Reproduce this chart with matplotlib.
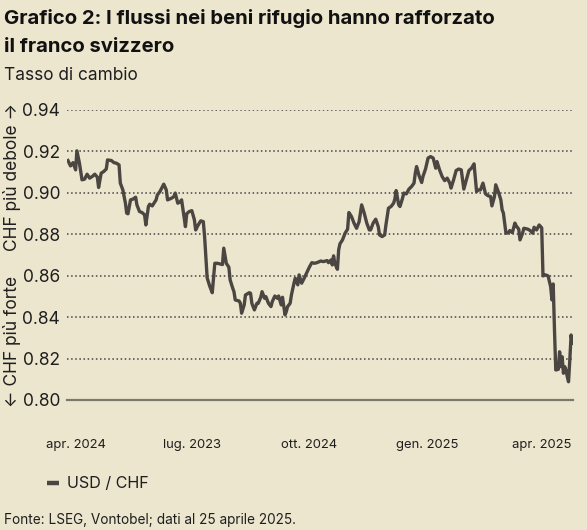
import matplotlib
matplotlib.use("Agg")
import matplotlib.pyplot as plt
import matplotlib.dates as mdates
from matplotlib.lines import Line2D
import pandas as pd

plt.rcParams['font.family'] = ['Inter', 'DejaVu Sans']

dates = [
    "2024-03-26", "2024-03-28", "2024-03-30", "2024-04-01", "2024-04-02", "2024-04-04", "2024-04-06",
    "2024-04-08", "2024-04-10", "2024-04-12", "2024-04-14", "2024-04-16", "2024-04-18", "2024-04-19",
    "2024-04-21", "2024-04-23", "2024-04-25", "2024-04-26", "2024-04-29", "2024-05-01", "2024-05-03",
    "2024-05-05", "2024-05-06", "2024-05-08", "2024-05-10", "2024-05-11", "2024-05-12", "2024-05-14",
    "2024-05-16", "2024-05-18", "2024-05-19", "2024-05-21", "2024-05-23", "2024-05-25", "2024-05-26",
    "2024-05-28", "2024-05-29", "2024-05-31", "2024-06-03", "2024-06-04", "2024-06-06", "2024-06-09",
    "2024-06-11", "2024-06-12", "2024-06-15", "2024-06-17", "2024-06-18", "2024-06-20", "2024-06-22",
    "2024-06-23", "2024-06-26", "2024-06-27", "2024-06-29", "2024-07-01", "2024-07-03", "2024-07-04",
    "2024-07-06", "2024-07-08", "2024-07-10", "2024-07-11", "2024-07-13", "2024-07-15", "2024-07-17",
    "2024-07-19", "2024-07-21", "2024-07-23", "2024-07-25", "2024-07-26", "2024-07-28", "2024-07-30",
    "2024-07-31", "2024-08-02", "2024-08-03", "2024-08-04", "2024-08-07", "2024-08-08", "2024-08-09",
    "2024-08-11", "2024-08-12", "2024-08-15", "2024-08-16", "2024-08-17", "2024-08-19", "2024-08-21",
    "2024-08-22", "2024-08-24", "2024-08-25", "2024-08-27", "2024-08-28", "2024-08-30", "2024-09-01",
    "2024-09-02", "2024-09-04", "2024-09-06", "2024-09-07", "2024-09-09", "2024-09-10", "2024-09-12",
    "2024-09-13", "2024-09-14", "2024-09-16", "2024-09-17", "2024-09-19", "2024-09-20", "2024-09-22",
    "2024-09-23", "2024-09-25", "2024-09-27", "2024-09-29", "2024-10-01", "2024-10-03", "2024-10-05",
    "2024-10-07", "2024-10-10", "2024-10-12", "2024-10-15", "2024-10-16", "2024-10-18", "2024-10-19",
    "2024-10-20", "2024-10-21", "2024-10-23", "2024-10-24", "2024-10-25", "2024-10-27", "2024-10-29",
    "2024-10-31", "2024-11-01", "2024-11-03", "2024-11-05", "2024-11-07", "2024-11-09", "2024-11-11",
    "2024-11-13", "2024-11-15", "2024-11-17", "2024-11-18", "2024-11-20", "2024-11-22", "2024-11-24",
    "2024-11-25", "2024-11-27", "2024-11-29", "2024-11-30", "2024-12-02", "2024-12-04", "2024-12-06",
    "2024-12-07", "2024-12-08", "2024-12-10", "2024-12-11", "2024-12-13", "2024-12-14", "2024-12-16",
    "2024-12-18", "2024-12-20", "2024-12-22", "2024-12-23", "2024-12-24", "2024-12-26", "2024-12-28",
    "2024-12-29", "2024-12-31", "2025-01-02", "2025-01-04", "2025-01-06", "2025-01-08", "2025-01-09",
    "2025-01-11", "2025-01-13", "2025-01-15", "2025-01-17", "2025-01-19", "2025-01-20", "2025-01-22",
    "2025-01-24", "2025-01-26", "2025-01-28", "2025-01-29", "2025-01-30", "2025-02-01", "2025-02-03",
    "2025-02-05", "2025-02-07", "2025-02-09", "2025-02-10", "2025-02-12", "2025-02-14", "2025-02-16",
    "2025-02-18", "2025-02-20", "2025-02-21", "2025-02-23", "2025-02-24", "2025-02-26", "2025-02-28",
    "2025-03-01", "2025-03-02", "2025-03-04", "2025-03-06", "2025-03-07", "2025-03-09", "2025-03-11",
    "2025-03-12", "2025-03-14", "2025-03-15", "2025-03-17", "2025-03-18", "2025-03-21", "2025-03-23",
    "2025-03-25", "2025-03-26", "2025-03-28", "2025-03-30", "2025-04-01", "2025-04-02", "2025-04-04",
    "2025-04-06", "2025-04-08", "2025-04-09", "2025-04-10", "2025-04-11", "2025-04-12", "2025-04-14",
    "2025-04-15", "2025-04-16", "2025-04-17", "2025-04-18", "2025-04-19", "2025-04-20", "2025-04-21",
    "2025-04-22", "2025-04-23", "2025-04-24", "2025-04-25",
]

usd_chf = [
    0.9156, 0.9130, 0.9146, 0.9111, 0.9203, 0.9143, 0.9063,
    0.9066, 0.9090, 0.9071, 0.9079, 0.9090, 0.9076, 0.9026,
    0.9095, 0.9103, 0.9115, 0.9159, 0.9156, 0.9146, 0.9143,
    0.9135, 0.9047, 0.9014, 0.8950, 0.8902, 0.8899, 0.8966,
    0.8970, 0.8979, 0.8942, 0.8910, 0.8905, 0.8894, 0.8845,
    0.8934, 0.8945, 0.8937, 0.8966, 0.8990, 0.9006, 0.9042,
    0.9014, 0.8966, 0.8974, 0.8982, 0.8999, 0.8950, 0.8958,
    0.8966, 0.8837, 0.8899, 0.8910, 0.8914, 0.8870, 0.8821,
    0.8845, 0.8865, 0.8861, 0.8789, 0.8590, 0.8550, 0.8518,
    0.8660, 0.8660, 0.8657, 0.8654, 0.8733, 0.8660, 0.8641,
    0.8580, 0.8540, 0.8523, 0.8483, 0.8478, 0.8467, 0.8419,
    0.8459, 0.8507, 0.8518, 0.8515, 0.8467, 0.8435, 0.8467,
    0.8467, 0.8496, 0.8523, 0.8491, 0.8499, 0.8467, 0.8451,
    0.8475, 0.8502, 0.8491, 0.8502, 0.8459, 0.8496, 0.8411,
    0.8427, 0.8451, 0.8467, 0.8507, 0.8564, 0.8588, 0.8556,
    0.8604, 0.8564, 0.8588, 0.8615, 0.8641, 0.8663, 0.8660,
    0.8663, 0.8671, 0.8668, 0.8673, 0.8663, 0.8676, 0.8652,
    0.8696, 0.8660, 0.8631, 0.8725, 0.8754, 0.8773, 0.8805,
    0.8825, 0.8905, 0.8886, 0.8854, 0.8829, 0.8861, 0.8942,
    0.8902, 0.8854, 0.8821, 0.8821, 0.8854, 0.8873, 0.8837,
    0.8797, 0.8789, 0.8797, 0.8845, 0.8926, 0.8934, 0.8950,
    0.8970, 0.9011, 0.8942, 0.8934, 0.8974, 0.8999, 0.8995,
    0.9018, 0.9030, 0.9047, 0.9095, 0.9127, 0.9082, 0.9050,
    0.9079, 0.9115, 0.9168, 0.9175, 0.9168, 0.9119, 0.9151,
    0.9111, 0.9079, 0.9059, 0.9071, 0.9047, 0.9023, 0.9063,
    0.9108, 0.9115, 0.9111, 0.9063, 0.9018, 0.9063, 0.9108,
    0.9119, 0.9140, 0.9006, 0.9014, 0.9014, 0.9047, 0.8995,
    0.8986, 0.8982, 0.8937, 0.8982, 0.9039, 0.9006, 0.8966,
    0.8918, 0.8902, 0.8805, 0.8808, 0.8818, 0.8808, 0.8854,
    0.8841, 0.8825, 0.8773, 0.8805, 0.8829, 0.8825, 0.8818,
    0.8805, 0.8834, 0.8821, 0.8845, 0.8831, 0.8599, 0.8604,
    0.8599, 0.8547, 0.8483, 0.8560, 0.8338, 0.8145, 0.8148,
    0.8233, 0.8161, 0.8209, 0.8129, 0.8161, 0.8145, 0.8113,
    0.8088, 0.8193, 0.8314, 0.8274,
]

tick_dates = ["2024-04-01", "2024-07-01", "2024-10-01", "2025-01-01", "2025-04-01"]
tick_labels = ["apr. 2024", "lug. 2023", "ott. 2024", "gen. 2025", "apr. 2025"]
y_ticks = [0.80, 0.82, 0.84, 0.86, 0.88, 0.90, 0.92, 0.94]
series_name = "USD / CHF"

BG = "#ECE6CF"
LINE = "#4B4642"
TXT = "#1E1E1E"

W, H = 587, 530
fig = plt.figure(figsize=(W / 100, H / 100), dpi=100, facecolor=BG)
ax = fig.add_axes([67 / W, 1 - 400 / H, (573 - 67) / W, (400 - 110) / H])
ax.set_facecolor(BG)

x = pd.to_datetime(dates)
ax.plot(x, usd_chf, color=LINE, lw=2.4, solid_joinstyle='round', zorder=3)

ax.set_ylim(0.80, 0.94)
ax.set_xlim(pd.Timestamp("2024-03-25 06:00"), pd.Timestamp("2025-04-25 12:00"))
ax.set_yticks(y_ticks)
ax.set_yticklabels([f"{v:.2f}" for v in y_ticks])
ax.set_xticks(pd.to_datetime(tick_dates))
ax.set_xticklabels(tick_labels)
ax.tick_params(axis='y', length=0, pad=5, labelsize=12.5, labelcolor=TXT)
ax.tick_params(axis='x', length=0, pad=28, labelsize=9.4, labelcolor=TXT)

for side in ['top', 'right', 'left']:
    ax.spines[side].set_visible(False)
ax.spines['bottom'].set_color('#7B796A')
ax.spines['bottom'].set_linewidth(1.6)
ax.spines['bottom'].set_zorder(4)

ax.yaxis.grid(True, linestyle=(0, (1, 1.7)), color='#444444', lw=1.1, zorder=1)
ax.set_axisbelow(True)

fig.text(4 / W, 1 - 19 / H, "Grafico 2: I flussi nei beni rifugio hanno rafforzato",
         fontsize=14.6, fontweight='bold', color='#111111', va='center', ha='left')
fig.text(4 / W, 1 - 47 / H, "il franco svizzero",
         fontsize=14.6, fontweight='bold', color='#111111', va='center', ha='left')
fig.text(4 / W, 1 - 76 / H, "Tasso di cambio", fontsize=12.4, color=TXT, va='center', ha='left')

fig.text(12 / W, 1 - 103 / H, "CHF più debole \u2192", rotation=90, fontsize=12.5, color=TXT,
         va='top', ha='center')
fig.text(12 / W, 1 - 407 / H, "\u2190 CHF più forte", rotation=90, fontsize=12.5, color=TXT,
         va='bottom', ha='center')

handle = Line2D([0], [0], color=LINE, lw=3.2, solid_capstyle='butt')
fig.legend(handles=[handle], labels=[series_name], loc='center left',
           bbox_to_anchor=(47 / W, 1 - 484 / H), frameon=False, fontsize=11.6,
           handlelength=0.75, handletextpad=0.5, borderpad=0, borderaxespad=0,
           labelcolor=TXT)

fig.text(4 / W, 1 - 520 / H, "Fonte: LSEG, Vontobel; dati al 25 aprile 2025.",
         fontsize=9.8, color=TXT, va='center', ha='left')

fig.savefig("out.png", dpi=100, facecolor=BG)
